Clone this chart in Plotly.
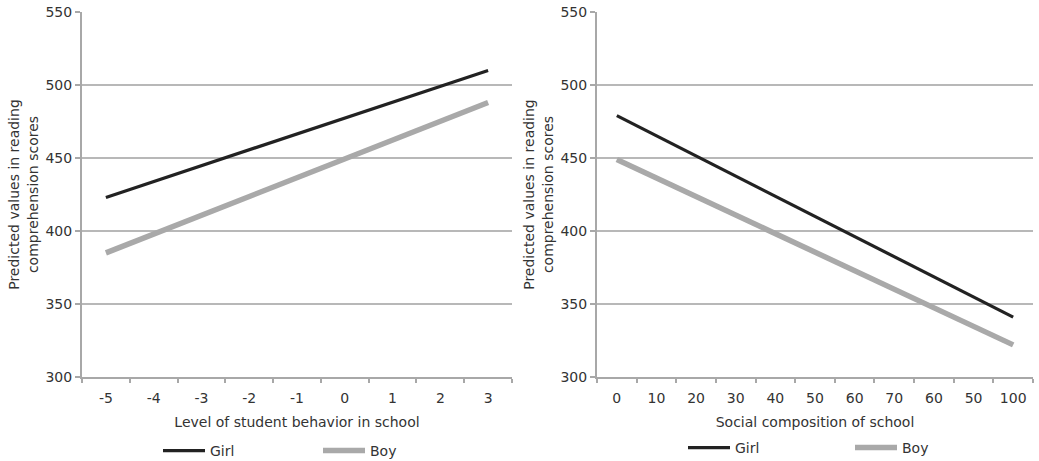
import plotly.graph_objects as go

# ---- data ----
behavior_labels = ["-5", "-4", "-3", "-2", "-1", "0", "1", "2", "3"]
behavior_girl_x = ["-5", "3"]
behavior_girl_y = [423, 510]
behavior_boy_x = ["-5", "3"]
behavior_boy_y = [385, 488]

social_labels = ["0", "10", "20", "30", "40", "50", "60", "70", "60", "50", "100"]
social_girl_idx = [0, 10]
social_girl_y = [479, 341]
social_boy_idx = [0, 10]
social_boy_y = [449, 322]

y_ticks = [300, 350, 400, 450, 500, 550]

W, H = 1039, 461
FONT = "DejaVu Sans, Arial, sans-serif"
TXT = "#333333"
GRID = "#b8b8b8"
AX = "#a8a8a8"
GIRL_C = "#222222"
BOY_C = "#a9a9a9"

def px(x):
    return x / W

def py(y):
    return 1 - y / H

fig = go.Figure()

bx = {lab: i for i, lab in enumerate(behavior_labels)}

fig.add_trace(go.Scatter(x=[bx[v] for v in behavior_girl_x], y=behavior_girl_y, mode="lines",
                         name="Girl", line=dict(color=GIRL_C, width=3.2),
                         xaxis="x", yaxis="y", legend="legend"))
fig.add_trace(go.Scatter(x=[bx[v] for v in behavior_boy_x], y=behavior_boy_y, mode="lines",
                         name="Boy", line=dict(color=BOY_C, width=5.5),
                         xaxis="x", yaxis="y", legend="legend"))
fig.add_trace(go.Scatter(x=social_girl_idx, y=social_girl_y, mode="lines",
                         name="Girl", line=dict(color=GIRL_C, width=3.2),
                         xaxis="x2", yaxis="y2", legend="legend2"))
fig.add_trace(go.Scatter(x=social_boy_idx, y=social_boy_y, mode="lines",
                         name="Boy", line=dict(color=BOY_C, width=5.5),
                         xaxis="x2", yaxis="y2", legend="legend2"))

ytitle = "Predicted values in reading<br>comprehension scores"

def xaxis_cfg(labels, dom, title):
    n = len(labels)
    return dict(
        domain=dom, range=[-0.5, n - 0.5], tickmode="array",
        tickvals=list(range(n)), ticktext=labels, ticks="", showgrid=False,
        zeroline=False, showline=True, linecolor=AX, linewidth=2,
        tickfont=dict(size=14, color=TXT, family=FONT), ticklabelstandoff=7,
        minor=dict(tickmode="array", tickvals=[i - 0.5 for i in range(n + 1)],
                   ticks="outside", ticklen=4, tickcolor=AX, tickwidth=2, showgrid=False),
        title=dict(text=title, font=dict(size=14, color=TXT, family=FONT), standoff=12),
        automargin=False, fixedrange=True,
    )

def yaxis_cfg(anchor):
    return dict(
        domain=[py(377), py(12)], range=[300, 550], tickmode="array", tickvals=y_ticks,
        ticks="outside", ticklen=5, tickcolor=AX, tickwidth=2,
        showgrid=True, gridcolor=GRID, gridwidth=2, zeroline=False,
        showline=True, linecolor=AX, linewidth=2, anchor=anchor,
        tickfont=dict(size=14, color=TXT, family=FONT),
        title=dict(text=ytitle, font=dict(size=14, color=TXT, family=FONT), standoff=4),
        automargin=False, fixedrange=True,
    )

fig.update_layout(
    width=W, height=H, autosize=False,
    margin=dict(l=0, r=0, t=0, b=0, autoexpand=False),
    paper_bgcolor="white", plot_bgcolor="white",
    font=dict(family=FONT, size=14, color=TXT),
    xaxis=xaxis_cfg(behavior_labels, [px(82), px(512)], "Level of student behavior in school") | dict(anchor="y"),
    yaxis=yaxis_cfg("x"),
    xaxis2=xaxis_cfg(social_labels, [px(597), px(1033)], "Social composition of school") | dict(anchor="y2"),
    yaxis2=yaxis_cfg("x2"),
    legend=dict(orientation="h", x=px(158), y=py(451), xanchor="left", yanchor="middle",
                entrywidth=103, entrywidthmode="pixels", itemwidth=42,
                font=dict(size=14, color=TXT, family=FONT), bgcolor="rgba(0,0,0,0)"),
    legend2=dict(orientation="h", x=px(683), y=py(448), xanchor="left", yanchor="middle",
                 entrywidth=110, entrywidthmode="pixels", itemwidth=42,
                 font=dict(size=14, color=TXT, family=FONT), bgcolor="rgba(0,0,0,0)"),
)

fig.write_html("out.html", config={"displayModeBar": False},
               post_script="document.body.style.margin='0';document.body.style.overflow='hidden';")
